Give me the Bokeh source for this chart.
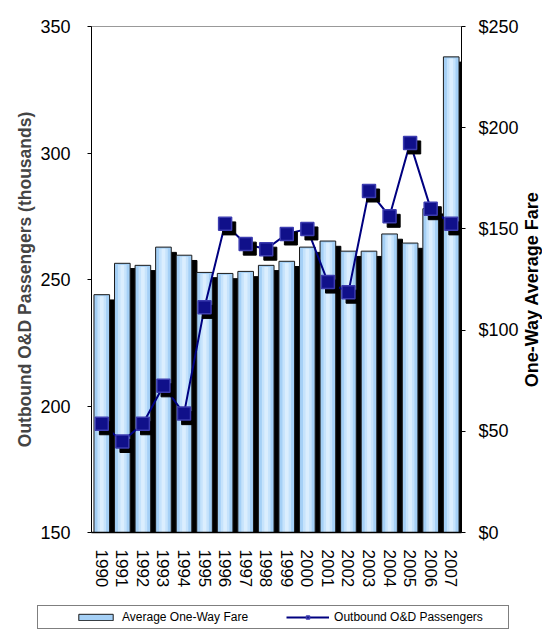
from math import pi
from bokeh.plotting import figure
from bokeh.layouts import column, row
from bokeh.models import (ColumnDataSource, Range1d, FactorRange, LinearAxis, NumeralTickFormatter,
                          Legend, LegendItem, FixedTicker, Label)
from bokeh.transform import dodge
from bokeh.embed import file_html
from bokeh.resources import INLINE

years = [str(y) for y in range(1990, 2008)]
fare = [117.5, 133, 132, 141, 137, 128.5, 128, 129, 132, 134, 141, 144, 139, 139, 147.5, 143, 160, 235]
passengers = [193, 186, 193, 208, 197, 239, 272, 264, 262, 268, 270, 249, 245, 285, 275, 304, 278, 272]
left_ticks = [150, 200, 250, 300, 350]
right_ticks = [0, 50, 100, 150, 200, 250]

src = ColumnDataSource(dict(year=years, fare=fare, pax=passengers))

FONT = "Liberation Sans"
BAR = dict(fill_color="#a5d0f6", line_color="#1a1a1a", line_width=1)
LINE = dict(line_color="#000080", line_width=2)
MARK = dict(marker="square", size=13, fill_color="#10108a", line_color="#3c3cb0", line_width=1.5)

p = figure(width=521, height=595, x_range=FactorRange(factors=years), y_range=Range1d(150, 350),
           output_backend="svg", toolbar_location=None,
           min_border_left=91, min_border_right=60, min_border_top=26, min_border_bottom=63)
p.extra_y_ranges = {"fare": Range1d(0, 250)}
p.xgrid.visible = False
p.ygrid.visible = False
p.outline_line_color = "#999999"
p.background_fill_color = "white"

# bars (fare, right axis) with shadow
p.vbar(x=dodge("year", 0.25, range=p.x_range), top=dodge("fare", -2.6), bottom=0, width=0.76,
       source=src, y_range_name="fare", fill_color="black", line_color="black")
p.vbar(x="year", top="fare", bottom=0, width=0.76, source=src, y_range_name="fare", **BAR)
p.vbar(x="year", top=dodge("fare", -0.8), bottom=0, width=0.42, source=src, y_range_name="fare",
       fill_color="#c6e3fc", line_color=None)
p.vbar(x="year", top=dodge("fare", -0.8), bottom=0, width=0.18, source=src, y_range_name="fare",
       fill_color="#dbeefe", line_color=None)

# passengers line (left axis) with marker shadow
p.line(x="year", y="pax", source=src, **LINE)
p.scatter(x=dodge("year", 0.2, range=p.x_range), y=dodge("pax", -1.8), source=src, marker="square",
          size=13, fill_color="black", line_color="black")
p.scatter(x="year", y="pax", source=src, **MARK)

# axes
yl = p.yaxis[0]
yl.ticker = FixedTicker(ticks=left_ticks)
yl.axis_label = "Outbound O&D Passengers (thousands)"
yl.axis_label_text_font = FONT
yl.axis_label_text_font_style = "bold"
yl.axis_label_text_font_size = "17.5px"
yl.axis_label_standoff = 2
yl.major_label_text_font = FONT
yl.major_label_text_font_size = "18px"
yl.major_label_text_color = "black"
yl.major_label_standoff = 17
yl.major_tick_in = 0
yl.major_tick_out = 4
yl.minor_tick_line_color = None
yl.axis_line_color = "black"

yr = LinearAxis(y_range_name="fare", ticker=FixedTicker(ticks=right_ticks),
                formatter=NumeralTickFormatter(format="$0"))
yr.major_label_text_font = FONT
yr.major_label_text_font_size = "18px"
yr.major_label_text_color = "black"
yr.major_label_standoff = 13
yr.major_tick_in = 0
yr.major_tick_out = 4
yr.minor_tick_line_color = None
yr.axis_line_color = "black"
p.add_layout(yr, "right")

xa = p.xaxis[0]
xa.major_label_orientation = "vertical"
xa.major_label_text_font = FONT
xa.major_label_text_font_size = "17px"
xa.major_label_text_color = "black"
xa.major_label_standoff = 17
xa.major_tick_line_color = None
xa.major_tick_out = 0
xa.major_tick_in = 0
xa.axis_line_color = "black"
xa.axis_line_width = 1.5

# right-hand axis title (reads bottom-to-top, as in the reference)
pt = figure(width=21, height=595, output_backend="svg", toolbar_location=None,
            x_range=Range1d(0, 1), y_range=Range1d(0, 1), min_border=0,
            x_axis_type=None, y_axis_type=None)
pt.grid.visible = False
pt.outline_line_color = None
pt.add_layout(Label(x=10, y=243, x_units="screen", y_units="screen", angle=pi / 2,
                    text="One-Way Average Fare", text_font=FONT, text_font_style="bold",
                    text_font_size="18px", text_align="center", text_baseline="middle",
                    text_color="black"))

# legend strip: same renderers' styles; its x range holds no year, so nothing but the legend is drawn
pl = figure(width=542, height=36, output_backend="svg", toolbar_location=None,
            x_range=FactorRange(factors=["legend"]), y_range=Range1d(-2, -1), min_border=0,
            x_axis_type=None, y_axis_type=None)
pl.grid.visible = False
pl.outline_line_color = None
lb = pl.vbar(x="year", top="fare", bottom=0, width=0.76, source=src, **BAR)
ll = pl.line(x="year", y="pax", source=src, **LINE)
lm = pl.scatter(x="year", y="pax", source=src, **MARK)

legend = Legend(items=[LegendItem(label="Average One-Way Fare", renderers=[lb]),
                       LegendItem(label="Outbound O&D Passengers", renderers=[ll, lm])],
                orientation="horizontal", spacing=38,
                glyph_width=43, glyph_height=8, label_height=12, label_standoff=5,
                label_text_font=FONT, label_text_font_size="12px", label_text_color="black",
                border_line_color="black", border_line_width=1, background_fill_color="white",
                margin=0)
try:
    legend.padding = (36, 25, 4, 4)   # left, right, top, bottom
    legend.location = (37, 2)
except Exception:
    legend.padding = 5
    legend.location = (68, 2)
pl.add_layout(legend, "center")

layout = column(row(p, pt), pl)
open("out.html", "w").write(file_html(layout, INLINE))
